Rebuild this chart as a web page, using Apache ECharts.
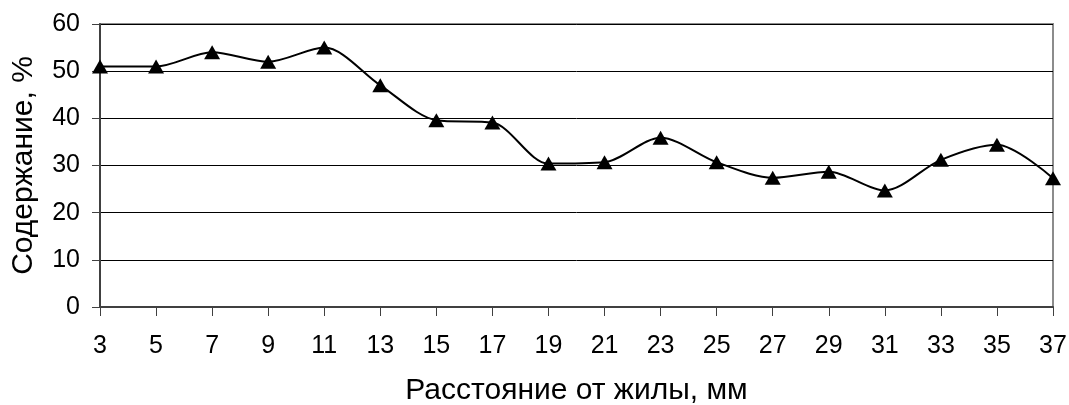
<!DOCTYPE html>
<html>
<head>
<meta charset="utf-8">
<script src="https://cdn.jsdelivr.net/npm/echarts@6/dist/echarts.min.js"></script>
<style>
  html, body { margin: 0; padding: 0; background: #fff; }
  #main { width: 1069px; height: 405px; }
</style>
</head>
<body>
<div id="main"></div>
<script>
// расстояние от жилы, мм
var distances = ['3', '5', '7', '9', '11', '13', '15', '17', '19', '21', '23', '25', '27', '29', '31', '33', '35', '37'];
// содержание, %
var content = [51, 51, 54, 52, 55, 47, 39.6, 39.1, 30.4, 30.7, 35.9, 30.7, 27.4, 28.7, 24.7, 31.2, 34.4, 27.3];

var font = 'Liberation Sans, Arial, sans-serif';

var chart = echarts.init(document.getElementById('main'));

var option = {
    animation: false,
    backgroundColor: '#fff',
    grid: {
        left: 100,
        right: 16,
        top: 24,
        bottom: 98,
        outerBoundsMode: 'none',
        containLabel: false,
        show: true,
        borderColor: '#8c8c8c',
        borderWidth: 2
    },
    xAxis: {
        type: 'category',
        data: distances,
        boundaryGap: false,
        name: 'Расстояние от жилы, мм',
        nameLocation: 'middle',
        nameGap: 69,
        nameTextStyle: { fontFamily: font, fontSize: 30, color: '#000' },
        axisLine: { lineStyle: { color: '#404040', width: 2 } },
        axisTick: { alignWithLabel: true, length: 9, lineStyle: { color: '#404040', width: 1 } },
        axisLabel: { fontFamily: font, fontSize: 25, color: '#000', margin: 27 },
        splitLine: { show: false }
    },
    yAxis: {
        type: 'value',
        min: 0,
        max: 60,
        interval: 10,
        name: 'Содержание, %',
        nameLocation: 'middle',
        nameGap: 61,
        nameTextStyle: { fontFamily: font, fontSize: 30, color: '#000' },
        axisLine: { show: true, lineStyle: { color: '#404040', width: 2 } },
        axisTick: { show: true, length: 8, lineStyle: { color: '#404040', width: 1 } },
        axisLabel: { fontFamily: font, fontSize: 25, color: '#000', margin: 20 },
        splitLine: { lineStyle: { color: '#000', width: 1 } }
    },
    series: [{
        type: 'line',
        data: content,
        smooth: 0.3,
        symbol: 'triangle',
        symbolSize: [16, 14],
        itemStyle: { color: '#000' },
        lineStyle: { color: '#000', width: 2 }
    }]
};

chart.setOption(option);
</script>
</body>
</html>
